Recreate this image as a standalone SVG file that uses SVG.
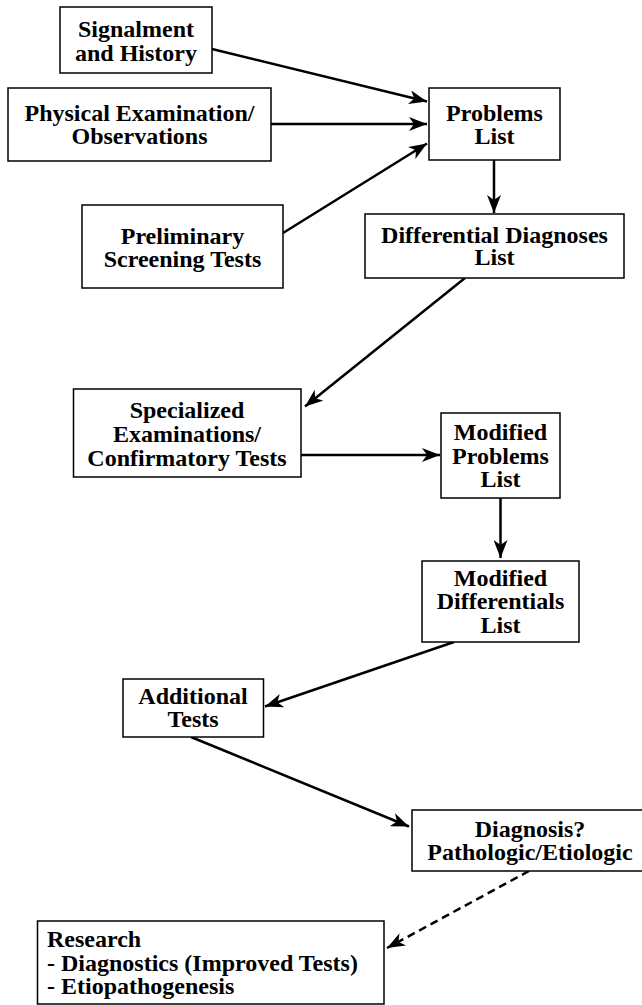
<svg xmlns="http://www.w3.org/2000/svg" width="642" height="1005" viewBox="0 0 642 1005">
<style>
.box{fill:#fff;stroke:#000;stroke-width:1.5}
.t{font-family:"Liberation Serif","Times New Roman",serif;font-weight:bold;font-size:24px;fill:#000;text-anchor:middle}
.tl{text-anchor:start}
.c{stroke:#000;stroke-width:2.5;fill:none}
.d{stroke-dasharray:8 5}
</style>
<defs>
<marker id="ah" viewBox="0 0 18 14" refX="18" refY="7" markerWidth="18" markerHeight="14" markerUnits="userSpaceOnUse" orient="auto">
<path d="M0,0 L18,7 L0,14 L5,7 Z" fill="#000"/>
</marker>
</defs>
<rect width="642" height="1005" fill="#fff"/>
<g id="connectors">
<line class="c" x1="212" y1="49" x2="427" y2="101.5" marker-end="url(#ah)"/>
<line class="c" x1="271" y1="124" x2="427" y2="124" marker-end="url(#ah)"/>
<line class="c" x1="283" y1="233" x2="427" y2="143.5" marker-end="url(#ah)"/>
<line class="c" x1="494" y1="160" x2="494" y2="213" marker-end="url(#ah)"/>
<line class="c" x1="465" y1="278" x2="305" y2="406.5" marker-end="url(#ah)"/>
<line class="c" x1="301" y1="455" x2="440" y2="455" marker-end="url(#ah)"/>
<line class="c" x1="500.5" y1="498" x2="500.5" y2="558" marker-end="url(#ah)"/>
<line class="c" x1="454" y1="642" x2="265" y2="706.5" marker-end="url(#ah)"/>
<line class="c" x1="191" y1="737" x2="409" y2="826.5" marker-end="url(#ah)"/>
<line class="c d" x1="529" y1="871" x2="387" y2="948" marker-end="url(#ah)"/>
</g>
<g id="signalment">
<rect class="box" x="60" y="7" width="152" height="66"/>
<text class="t" x="136" y="36.5">Signalment</text>
<text class="t" x="136" y="60.5">and History</text>
</g>
<g id="physical">
<rect class="box" x="8" y="88" width="263" height="73"/>
<text class="t" x="139.5" y="120.5">Physical Examination/</text>
<text class="t" x="139.5" y="144">Observations</text>
</g>
<g id="problems">
<rect class="box" x="429" y="88" width="131" height="72"/>
<text class="t" x="494.5" y="121">Problems</text>
<text class="t" x="494.5" y="144">List</text>
</g>
<g id="preliminary">
<rect class="box" x="82" y="205" width="201" height="83"/>
<text class="t" x="182.5" y="243.5">Preliminary</text>
<text class="t" x="182.5" y="266.5">Screening Tests</text>
</g>
<g id="differential">
<rect class="box" x="365" y="214" width="259" height="64"/>
<text class="t" x="494.5" y="242.5">Differential Diagnoses</text>
<text class="t" x="494.5" y="265">List</text>
</g>
<g id="specialized">
<rect class="box" x="73.5" y="389" width="227.5" height="88"/>
<text class="t" x="187" y="417.5">Specialized</text>
<text class="t" x="187" y="441.5">Examinations/</text>
<text class="t" x="187" y="465.5">Confirmatory Tests</text>
</g>
<g id="modified-problems">
<rect class="box" x="441" y="413" width="119" height="85"/>
<text class="t" x="500.5" y="440">Modified</text>
<text class="t" x="500.5" y="463.5">Problems</text>
<text class="t" x="500.5" y="487">List</text>
</g>
<g id="modified-differentials">
<rect class="box" x="422" y="561" width="157" height="81"/>
<text class="t" x="500.5" y="585.5">Modified</text>
<text class="t" x="500.5" y="609">Differentials</text>
<text class="t" x="500.5" y="633">List</text>
</g>
<g id="additional">
<rect class="box" x="123" y="679" width="140.5" height="58"/>
<text class="t" x="193" y="704">Additional</text>
<text class="t" x="193" y="727">Tests</text>
</g>
<g id="diagnosis">
<rect class="box" x="412" y="810" width="236" height="61"/>
<text class="t" x="530" y="836.5">Diagnosis?</text>
<text class="t" x="530" y="860">Pathologic/Etiologic</text>
</g>
<g id="research">
<rect class="box" x="37.5" y="921" width="346.5" height="83"/>
<text class="t tl" x="47" y="946.5">Research</text>
<text class="t tl" x="47" y="970.5">- Diagnostics (Improved Tests)</text>
<text class="t tl" x="47" y="994">- Etiopathogenesis</text>
</g>
</svg>
